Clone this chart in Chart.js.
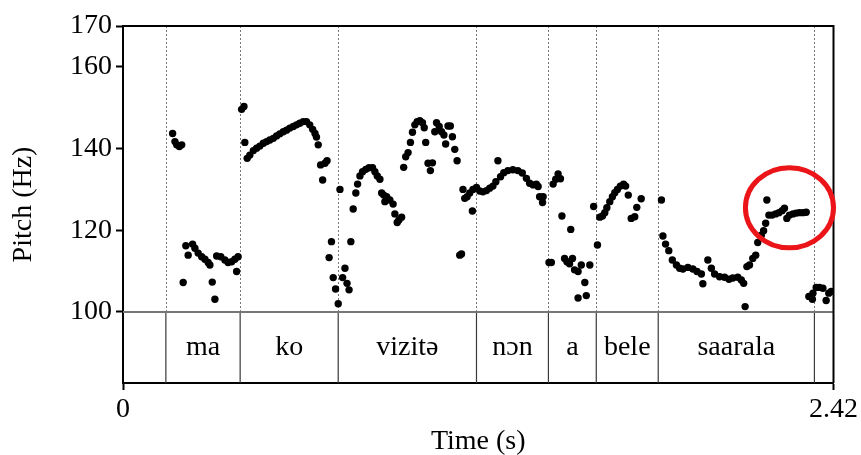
<!DOCTYPE html>
<html>
<head>
<meta charset="utf-8">
<script src="https://cdn.jsdelivr.net/npm/chart.js@4.4.0/dist/chart.umd.min.js"></script>
<style>
  html, body { margin: 0; padding: 0; background: #fff; }
</style>
</head>
<body>
<canvas id="pitch-graph" width="861" height="455"></canvas>
<script>
// pitch track (seconds, Hz)
const times = [
  0.169, 0.177, 0.183, 0.192, 0.200,
  0.205, 0.214, 0.222, 0.237, 0.245, 0.256, 0.268, 0.279, 0.290, 0.296, 0.304, 0.313, 0.319, 0.333, 0.347, 0.358, 0.370, 0.381, 0.387, 0.392,
  0.404, 0.412, 0.415, 0.423, 0.432, 0.444, 0.455, 0.466, 0.478, 0.489, 0.500, 0.512, 0.523, 0.534, 0.546, 0.557, 0.568, 0.580, 0.591, 0.602, 0.614, 0.625, 0.636, 0.646, 0.654, 0.659, 0.665, 0.673, 0.680, 0.688, 0.695,
  0.702, 0.710, 0.716, 0.724, 0.733, 0.739, 0.748, 0.756, 0.763, 0.770, 0.776,
  0.784, 0.793, 0.799, 0.807, 0.816, 0.827, 0.838, 0.850, 0.858, 0.866, 0.875, 0.881, 0.888, 0.892, 0.898, 0.909, 0.920, 0.926, 0.934, 0.940, 0.949,
  0.956, 0.963, 0.971, 0.979, 0.986, 0.994, 1.002, 1.011, 1.020, 1.026, 1.031, 1.039, 1.047, 1.054, 1.062, 1.068, 1.077, 1.085, 1.093, 1.099, 1.107, 1.115, 1.122, 1.130, 1.138, 1.147, 1.153,
  1.158, 1.164, 1.172, 1.181, 1.190, 1.192, 1.204, 1.215, 1.226, 1.238, 1.249, 1.260, 1.270, 1.277, 1.286, 1.297, 1.311, 1.328, 1.345, 1.360, 1.374, 1.385, 1.397, 1.408, 1.414, 1.419, 1.429, 1.431,
  1.451, 1.459, 1.465, 1.474, 1.482, 1.490, 1.495, 1.504, 1.512, 1.521, 1.525, 1.531, 1.538, 1.550, 1.550, 1.561, 1.573, 1.578, 1.590,
  1.603, 1.616, 1.624, 1.633, 1.641, 1.648, 1.658, 1.667, 1.675, 1.684, 1.694, 1.705, 1.712, 1.721, 1.731, 1.743, 1.750, 1.765,
  1.834, 1.839, 1.848, 1.859, 1.871, 1.885, 1.896, 1.907, 1.924, 1.941, 1.955, 1.970, 1.975, 1.992, 2.004, 2.015, 2.032, 2.049, 2.064, 2.077,
  2.094, 2.106, 2.114, 2.119, 2.125, 2.134, 2.145, 2.155, 2.162, 2.174, 2.182, 2.189, 2.193, 2.200, 2.211, 2.223, 2.234, 2.245, 2.253, 2.261,
  2.270, 2.282, 2.293, 2.304, 2.316, 2.327,
  2.336, 2.348, 2.350, 2.361, 2.372, 2.384, 2.395, 2.404, 2.412
]
const pitchHz = [
  143.7, 141.7, 140.9, 140.5, 140.9,
  107.2, 116.2, 113.9, 116.6, 115.6, 114.4, 113.5, 112.9, 112.1, 111.5, 107.3, 103.1, 113.7, 113.5, 112.7, 112.1, 112.3, 112.9, 109.9, 113.5,
  149.6, 150.3, 141.5, 137.6, 138.4, 139.5, 140.1, 140.6, 141.3, 141.7, 142.1, 142.5, 143.1, 143.6, 144.1, 144.5, 145.0, 145.4, 145.8, 146.2, 146.6, 146.6, 145.8, 144.7, 143.7, 142.8, 140.9, 136.0, 132.3, 136.4, 137.0,
  113.3, 117.2, 108.4, 105.6, 102.0, 130.0, 108.4, 110.7, 107.0, 105.4, 117.2,
  125.2, 129.1, 131.3, 133.3, 134.3, 134.9, 135.3, 135.3, 134.3, 133.3, 132.5, 129.1, 128.6, 127.0, 128.2, 127.4, 126.4, 124.0, 121.9, 122.5, 123.2,
  135.4, 138.0, 139.0, 141.5, 144.0, 145.8, 146.6, 146.8, 146.3, 145.1, 141.5, 136.4, 134.6, 136.5, 144.1, 146.3, 145.4, 144.1, 143.3, 141.1, 145.5, 145.5, 142.9, 139.8, 137.0, 113.9, 114.2,
  130.0, 127.8, 128.2, 129.1, 124.7, 130.0, 130.5, 129.6, 129.4, 129.7, 130.3, 130.8, 131.9, 137.0, 133.1, 134.1, 134.6, 134.8, 134.6, 134.0, 132.7, 131.5, 131.1, 131.3, 130.7, 128.2, 126.8, 128.2,
  112.1, 112.1, 131.3, 132.5, 133.8, 132.6, 123.5, 113.1, 112.3, 111.8, 120.2, 113.1, 110.3, 109.9, 103.4, 111.5, 107.2, 104.0, 111.5,
  125.8, 116.4, 123.2, 123.5, 124.3, 125.5, 127.0, 128.2, 129.2, 130.0, 130.8, 131.3, 130.8, 128.6, 122.9, 123.3, 125.6, 127.7,
  127.4, 118.6, 116.6, 115.0, 112.7, 111.5, 110.7, 110.5, 110.9, 110.5, 109.9, 109.3, 106.9, 112.7, 110.7, 109.3, 108.6, 108.5, 108.0, 108.3,
  108.5, 107.8, 107.0, 101.3, 111.1, 111.5, 113.1, 113.9, 117.0, 118.8, 119.9, 121.7, 127.4, 123.7, 123.7, 124.0, 124.3, 124.8, 125.4, 122.9,
  123.7, 124.0, 124.2, 124.3, 124.3, 124.4,
  103.8, 103.1, 104.6, 106.0, 106.0, 105.8, 102.8, 104.6, 105.0
]

// text grid tier
const boundaries = [0.146, 0.399, 0.733, 1.204, 1.449, 1.612, 1.823, 2.355]
const words = ['', 'ma', 'ko', 'vizitə', 'nɔn', 'a', 'bele', 'saarala', '']

const yTicks = [100, 120, 140, 160, 170]
const xTicks = [0, 2.42]
const tMax = 2.42

const serif = { family: '"Liberation Serif", "Times New Roman", serif', size: 28 }

const tierPlugin = {
  id: 'tier',
  beforeDatasetsDraw(chart) {
    const { ctx, chartArea: a, scales: { x, y } } = chart
    const y100 = y.getPixelForValue(100)
    ctx.save()
    // dotted boundaries in the pitch pane
    ctx.strokeStyle = '#777'
    ctx.lineWidth = 1
    ctx.setLineDash([2, 2])
    boundaries.forEach(b => {
      const px = Math.round(x.getPixelForValue(b)) + 0.5
      ctx.beginPath(); ctx.moveTo(px, a.top); ctx.lineTo(px, y100); ctx.stroke()
    })
    ctx.setLineDash([])
    // solid boundaries in the tier
    ctx.strokeStyle = '#3a3a3a'
    ctx.lineWidth = 1.2
    boundaries.forEach(b => {
      const px = x.getPixelForValue(b)
      ctx.beginPath(); ctx.moveTo(px, y100); ctx.lineTo(px, a.bottom); ctx.stroke()
    })
    ctx.strokeStyle = '#777'
    ctx.lineWidth = 2
    ctx.beginPath(); ctx.moveTo(a.left, y100); ctx.lineTo(a.right, y100); ctx.stroke()
    // words
    ctx.fillStyle = '#000'
    ctx.font = serif.size + 'px ' + serif.family
    ctx.textAlign = 'center'
    ctx.textBaseline = 'middle'
    const edges = [0, ...boundaries, tMax]
    words.forEach((w, i) => {
      if (!w) return
      const cx = (x.getPixelForValue(edges[i]) + x.getPixelForValue(edges[i + 1])) / 2
      ctx.fillText(w, cx, (y100 + a.bottom) / 2)
    })
    ctx.restore()
  },
  afterDatasetsDraw(chart) {
    const { ctx, chartArea: a, scales: { x, y } } = chart
    ctx.save()
    // frame top + right
    ctx.strokeStyle = '#000'
    ctx.lineWidth = 2
    ctx.beginPath()
    ctx.moveTo(a.left, a.top); ctx.lineTo(a.right, a.top); ctx.lineTo(a.right, a.bottom)
    ctx.stroke()
    // red highlight circle
    const cx = x.getPixelForValue(2.27), cy = y.getPixelForValue(125.5)
    const rx = x.getPixelForValue(2.27 + 0.15) - cx
    const ry = cy - y.getPixelForValue(125.5 + 9.8)
    ctx.strokeStyle = 'rgb(235, 20, 25)'
    ctx.lineWidth = 5
    ctx.beginPath()
    ctx.ellipse(cx, cy, rx, ry, 0, 0, Math.PI * 2)
    ctx.stroke()
    ctx.restore()
  }
}

var ctx = document.getElementById('pitch-graph').getContext('2d')

var pitchChart = new Chart(ctx, {
  type: 'scatter',
  data: {
    datasets: [{
      label: 'Pitch',
      data: times.map((t, i) => ({ x: t, y: pitchHz[i] })),
      pointRadius: 3.7,
      pointBackgroundColor: '#000',
      pointBorderWidth: 0
    }]
  },
  options: {
    responsive: false,
    animation: false,
    devicePixelRatio: 1,
    layout: { padding: { top: 26, right: 27, left: 0, bottom: 0 } },
    scales: {
      x: {
        type: 'linear',
        min: 0,
        max: tMax,
        afterBuildTicks: s => { s.ticks = xTicks.map(v => ({ value: v })) },
        afterFit: s => { s.height = 72 },
        ticks: {
          font: serif, color: '#000', padding: 3, maxRotation: 0, autoSkip: false,
          callback: v => (v === 0 ? '0' : v.toFixed(2))
        },
        grid: { drawOnChartArea: false, tickLength: 7, tickColor: '#000', tickWidth: 2 },
        border: { color: '#000', width: 2 },
        title: { display: true, text: 'Time (s)', font: serif, color: '#000', padding: { top: 0, bottom: -3 } }
      },
      y: {
        min: 82.6,
        max: 170,
        afterBuildTicks: s => { s.ticks = yTicks.map(v => ({ value: v })) },
        afterFit: s => { s.width = 123 },
        ticks: { font: serif, color: '#000', padding: 4 },
        grid: { drawOnChartArea: false, tickLength: 7, tickColor: '#000', tickWidth: 2 },
        border: { color: '#000', width: 2 },
        title: { display: true, text: 'Pitch (Hz)', font: serif, color: '#000', padding: { top: 7, bottom: 0 } }
      }
    },
    plugins: {
      legend: { display: false },
      tooltip: { enabled: false }
    }
  },
  plugins: [tierPlugin]
})
</script>
</body>
</html>
